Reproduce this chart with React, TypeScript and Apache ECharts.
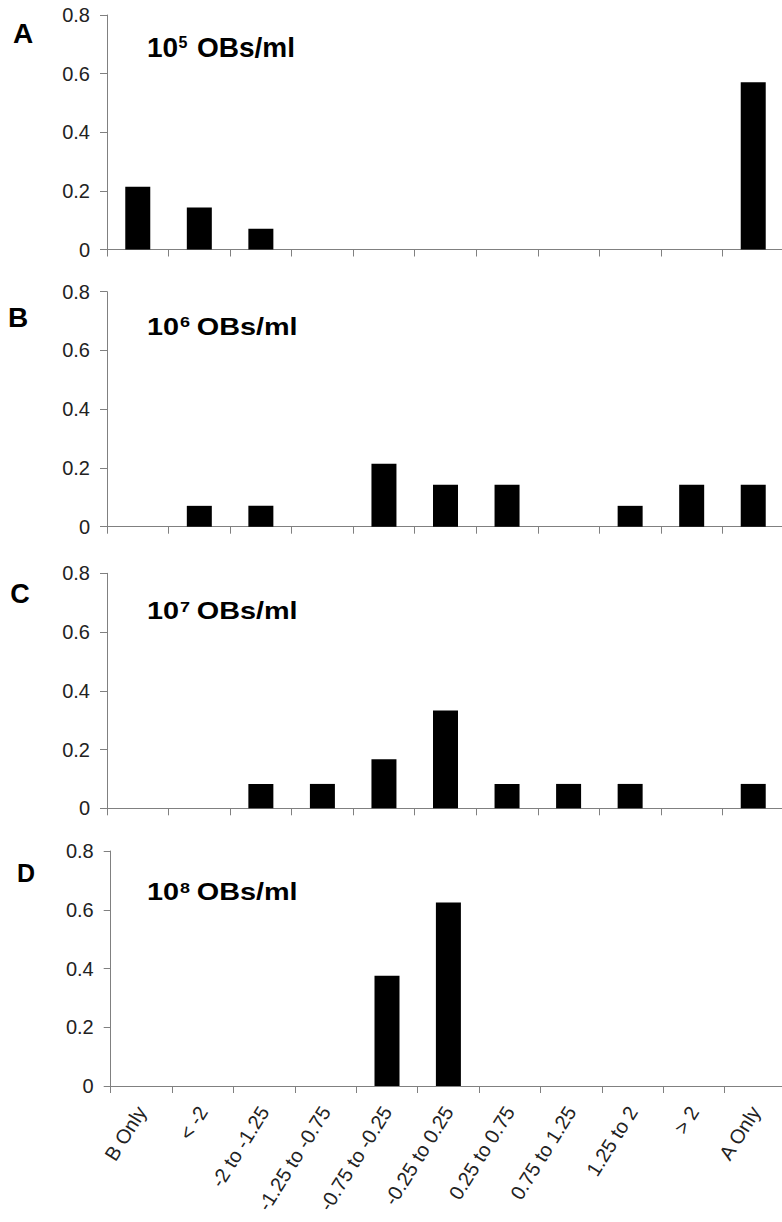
import React, { useEffect, useRef } from "react";
import * as echarts from "echarts";

const categories = [
  "B Only",
  "< -2",
  "-2 to -1.25",
  "-1.25 to -0.75",
  "-0.75 to -0.25",
  "-0.25 to 0.25",
  "0.25 to 0.75",
  "0.75 to 1.25",
  "1.25 to 2",
  "> 2",
  "A Only",
];
const panelA = [0.214, 0.143, 0.071, 0, 0, 0, 0, 0, 0, 0, 0.571];
const panelB = [0, 0.071, 0.071, 0, 0.214, 0.143, 0.143, 0, 0.071, 0.143, 0.143];
const panelC = [0, 0, 0.083, 0.083, 0.167, 0.333, 0.083, 0.083, 0.083, 0, 0.083];
const panelD = [0, 0, 0, 0, 0.375, 0.625, 0, 0, 0, 0, 0];
const panelLetters = ["A", "B", "C", "D"];
const exponents = ["5", "6", "7", "8"];

const FONT = "'Liberation Sans', Arial, sans-serif";
const AXIS_GRAY = "#808080";

export default function App() {
  const ref = useRef<HTMLDivElement>(null);
  useEffect(() => {
    document.body.style.margin = "0";
    const chart = echarts.init(ref.current!, undefined, { renderer: "svg" });
    const series = [panelA, panelB, panelC, panelD];
    const grids = [
      { left: 107, top: 15, width: 677, height: 234.5 },
      { left: 107, top: 291.7, width: 677, height: 235 },
      { left: 107, top: 573.3, width: 677, height: 235 },
      { left: 110.7, top: 851, width: 675.4, height: 235 },
    ];
    const letterPos = [
      { x: 23, y: 33, size: 28 },
      { x: 18, y: 317, size: 28 },
      { x: 20, y: 594, size: 27 },
      { x: 26, y: 873, size: 25 },
    ];
    const titlePos = [
      { y: 47.5, size: 28, sx: 1.0, supX: 31.5, supY: 42.5, supSize: 16, restX: 50 },
      { y: 326.5, size: 24, sx: 1.2, supX: 27.5, supY: 322.5, supSize: 15, restX: 41.5 },
      { y: 611, size: 24, sx: 1.2, supX: 27.5, supY: 607, supSize: 15, restX: 41.5 },
      { y: 892, size: 24, sx: 1.2, supX: 27.5, supY: 888, supSize: 15, restX: 41.5 },
    ];
    const graphics: any[] = [];
    panelLetters.forEach((l, i) => {
      const p = letterPos[i];
      graphics.push({
        type: "text",
        x: p.x,
        y: p.y,
        style: {
          text: l,
          fill: "#000",
          font: `bold ${p.size}px ${FONT}`,
          align: "center",
          verticalAlign: "middle",
        },
      });
      const t = titlePos[i];
      graphics.push({
        type: "group",
        x: 147,
        y: 0,
        scaleX: t.sx,
        children: [
          {
            type: "text",
            x: 0,
            y: t.y,
            style: {
              text: "10",
              fill: "#000",
              font: `bold ${t.size}px ${FONT}`,
              align: "left",
              verticalAlign: "middle",
            },
          },
          {
            type: "text",
            x: t.supX,
            y: t.supY,
            style: {
              text: exponents[i],
              fill: "#000",
              font: `bold ${t.supSize}px ${FONT}`,
              align: "left",
              verticalAlign: "middle",
            },
          },
          {
            type: "text",
            x: t.restX,
            y: t.y,
            style: {
              text: "OBs/ml",
              fill: "#000",
              font: `bold ${t.size}px ${FONT}`,
              align: "left",
              verticalAlign: "middle",
            },
          },
        ],
      });
    });

    const option: any = {
      animation: false,
      backgroundColor: "#fff",
      grid: grids.map((g) => ({ ...g, containLabel: false, outerBoundsMode: "none" })),
      xAxis: grids.map((_, i) => ({
        type: "category",
        gridIndex: i,
        data: categories,
        boundaryGap: true,
        axisLine: { show: true, lineStyle: { color: AXIS_GRAY, width: 1 } },
        axisTick: { show: true, length: 7, lineStyle: { color: AXIS_GRAY } },
        axisLabel: {
          show: i === 3,
          interval: 0,
          rotate: 58,
          margin: 22,
          fontSize: 20,
          fontFamily: FONT,
          color: "#222",
        },
      })),
      yAxis: grids.map((_, i) => ({
        type: "value",
        gridIndex: i,
        min: 0,
        max: 0.8,
        interval: 0.2,
        splitLine: { show: false },
        axisLine: { show: true, lineStyle: { color: AXIS_GRAY, width: 1 } },
        axisTick: { show: true, length: 7, lineStyle: { color: AXIS_GRAY } },
        axisLabel: {
          margin: 17,
          fontSize: 20,
          fontFamily: FONT,
          color: "#222",
          formatter: (v: number) => (v === 0 ? "0" : v.toFixed(1)),
        },
      })),
      series: series.map((d, i) => ({
        type: "bar",
        xAxisIndex: i,
        yAxisIndex: i,
        data: d,
        barWidth: 25,
        itemStyle: { color: "#000" },
      })),
      graphic: graphics,
    };
    chart.setOption(option);
    return () => chart.dispose();
  }, []);
  return <div ref={ref} style={{ width: 782, height: 1222 }} />;
}
